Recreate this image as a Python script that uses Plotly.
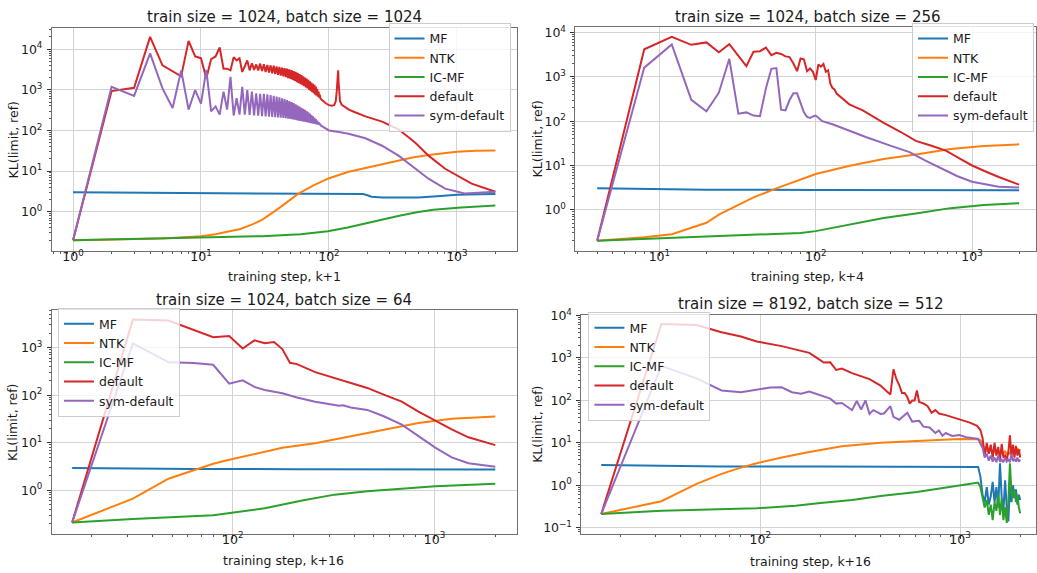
import plotly.graph_objects as go

W, H = 1037, 573

NAMES = ["MF", "NTK", "IC-MF", "default", "sym-default"]
COLORS = ["#1f77b4", "#ff7f0e", "#2ca02c", "#d62728", "#9467bd"]

TICK_VALS = [0.1, 1, 10, 100, 1000, 10000]
TICK_TEXT = ["10<sup>\u22121</sup>", "10<sup>0</sup>", "10<sup>1</sup>",
             "10<sup>2</sup>", "10<sup>3</sup>", "10<sup>4</sup>"]

# ---------------- train size = 1024, batch size = 1024 (x = k+1) ----------------
p1_mf_x = [1, 3, 10, 30, 100, 185, 200, 215, 260, 400, 500, 700, 1000, 1500, 2000]
p1_mf_y = [3.0, 2.92, 2.85, 2.8, 2.75, 2.72, 2.55, 2.35, 2.25, 2.22, 2.25, 2.42, 2.6, 2.68, 2.72]

p1_ntk_x = [1, 5, 10, 13, 16, 20, 25, 30, 40, 57, 75, 98, 140, 193, 270, 350, 450, 600, 800, 1000, 1400, 2000]
p1_ntk_y = [0.2, 0.22, 0.25, 0.28, 0.32, 0.37, 0.48, 0.63, 1.18, 2.7, 4.4, 6.5, 9.5, 11.8, 15, 18, 21.5, 25, 28, 30, 31.5, 32]

p1_icmf_x = [1, 10, 30, 60, 98, 140, 200, 280, 362, 500, 655, 1080, 2000]
p1_icmf_y = [0.2, 0.235, 0.25, 0.28, 0.33, 0.41, 0.53, 0.67, 0.81, 0.98, 1.12, 1.27, 1.42]

p1_default_head = [0.2, 930, 1120, 20000, 4000, 2850, 2150, 16000, 6600, 6000,
                   1900, 5700, 6600, 11000, 3300, 3300, 3000, 6300, 5300, 6000,
                   2750, 3800, 5300, 3000, 4500, 3100, 4200, 3000]
p1_default_osc = [4400, 2900, 4250, 2750, 4100, 2650, 4000, 2550, 3900, 2450,
                  3750, 2350, 3650, 2250, 3500, 2150, 3400, 2050, 3300, 1950,
                  3200, 1850, 3050, 1750, 2900, 1650, 2750, 1550, 2600, 1450,
                  2450, 1380, 2300, 1300, 2150, 1230, 2000, 1150, 1880, 1080,
                  1750, 1000, 1620, 940, 1500, 880, 1400, 820, 1320, 760,
                  1200, 720, 1050, 680, 900, 640, 760, 600]
p1_default_tail_x = [88, 90, 95, 100, 105, 110, 113, 115, 117, 118, 119, 120, 122, 126,
                     135, 143, 160, 193, 260, 350, 473, 600, 809, 1000, 1304, 2000]
p1_default_tail_y = [560, 520, 460, 420, 405, 420, 520, 900, 2000, 3000, 1500, 800, 520, 430,
                     370, 325, 280, 222, 165, 107, 50, 24, 11.4, 7.9, 4.9, 3.1]

p1_sym_head = [0.2, 1180, 710, 7900, 1080, 355, 3000, 325, 985, 455,
               3100, 295, 390, 245, 900, 325, 2080, 233, 620, 245,
               1180, 245, 985, 240, 900, 235, 820, 230]
p1_sym_osc = [800, 225, 790, 222, 770, 218, 740, 215, 710, 212,
              680, 209, 650, 206, 620, 203, 590, 199, 560, 195,
              530, 191, 500, 187, 470, 183, 440, 179, 410, 175,
              385, 171, 360, 167, 340, 164, 320, 161, 300, 158,
              280, 155, 260, 152, 240, 150, 222, 147, 205, 145,
              190, 142, 175, 140, 160, 137, 148, 134]
p1_sym_tail_x = [88, 92, 96, 100, 120, 142, 193, 260, 350, 473, 600, 809, 1150, 2000]
p1_sym_tail_y = [128, 118, 108, 100, 92, 83, 64, 42, 24, 11.4, 6.5, 3.7, 2.8, 3.1]

p1_steps = list(range(1, 87))

# ---------------- train size = 1024, batch size = 256 (x = k+4) ----------------
p2_mf_x = [4, 8, 20, 100, 500, 2000]
p2_mf_y = [3.05, 2.95, 2.85, 2.8, 2.77, 2.75]

p2_ntk_x = [4, 8, 12, 16, 20, 24, 28, 40, 56, 76, 100, 168, 272, 448, 728, 1188, 2000]
p2_ntk_y = [0.2, 0.24, 0.28, 0.39, 0.51, 0.78, 1.02, 1.9, 3.05, 4.6, 6.4, 10, 14, 18, 23.5, 27.7, 30]

p2_icmf_x = [4, 40, 80, 100, 168, 272, 448, 728, 1188, 2000]
p2_icmf_y = [0.2, 0.27, 0.30, 0.33, 0.46, 0.65, 0.84, 1.09, 1.29, 1.41]

p2_default_x = [4, 8, 12, 16, 20, 24, 28, 32, 36, 40, 44, 48, 52, 56, 60, 64, 68, 72, 76, 80,
                84, 88, 92, 96, 100, 104, 108, 112, 116, 120, 124, 128, 132, 136, 150, 164,
                200, 267, 350, 437, 550, 680, 830, 1000, 1200, 1480, 2000]
p2_default_y = [0.2, 4200, 8000, 5300, 6000, 3600, 5500, 3000, 1740, 3700, 3800, 4600, 3100, 3500,
                3300, 2900, 2800, 2000, 1350, 2600, 2500, 1350, 1550, 1300, 850, 1900, 1700, 1950,
                1300, 1400, 700, 560, 520, 420, 320, 240, 175, 95, 57, 36, 28, 21.6, 14.5, 10,
                7.5, 5.5, 3.7]

p2_sym_x = [4, 8, 12, 16, 20, 24, 28, 32, 36, 40, 44, 48, 52, 56, 60, 64, 68, 72, 76, 80,
            84, 88, 92, 96, 100, 104, 110, 128, 160, 209, 300, 398, 500, 648, 800, 1000, 1480, 2000]
p2_sym_y = [0.2, 1620, 5400, 303, 167, 440, 2560, 148, 158, 134, 130, 550, 1520, 1580, 182, 175,
            300, 425, 425, 260, 158, 125, 118, 128, 134, 120, 100, 85, 62, 44, 28, 20, 13, 8.4,
            5.8, 4.3, 3.3, 3.2]

# ---------------- train size = 1024, batch size = 64 (x = k+16) ----------------
p3_mf_x = [16, 32, 64, 200, 2000]
p3_mf_y = [2.95, 2.85, 2.8, 2.78, 2.72]

p3_ntk_x = [16, 32, 48, 64, 80, 96, 128, 176, 256, 384, 560, 832, 1216, 2000]
p3_ntk_y = [0.21, 0.67, 1.75, 2.68, 3.6, 4.4, 5.8, 7.8, 9.8, 13.8, 19, 26, 32, 35.5]

p3_icmf_x = [16, 32, 80, 96, 144, 224, 320, 464, 688, 1008, 2000]
p3_icmf_y = [0.21, 0.25, 0.30, 0.33, 0.42, 0.62, 0.81, 0.95, 1.08, 1.21, 1.37]

p3_default_x = [16, 32, 48, 64, 80, 96, 112, 128, 144, 160, 176, 192, 208, 256, 320, 384,
                464, 560, 688, 832, 1008, 1216, 1472, 2000]
p3_default_y = [0.21, 3880, 3700, 2400, 1660, 1750, 960, 1420, 1230, 1310, 930, 480, 450, 305,
                230, 182, 142, 103, 73, 45, 29, 19, 13, 8.9]

p3_sym_x = [16, 32, 48, 64, 80, 96, 112, 128, 144, 160, 176, 208, 256, 320, 336, 352, 384,
            464, 560, 688, 832, 1008, 1216, 1472, 2000]
p3_sym_y = [0.21, 1230, 490, 475, 435, 175, 205, 149, 128, 118, 110, 89, 73, 62, 60, 61, 55,
            49, 36, 24, 13.8, 7.9, 4.9, 3.7, 3.14]

# ---------------- train size = 8192, batch size = 512 (x = k+16) ----------------
p4_tail_x = [1232, 1264, 1296, 1328, 1360, 1392, 1424, 1456, 1488, 1520, 1552, 1584, 1616,
             1648, 1680, 1712, 1744, 1776, 1808, 1840, 1872, 1904, 1936, 1968, 2000]

p4_mf_x = [16, 32, 64, 200, 1000, 1216]
p4_mf_y = [3.0, 2.85, 2.78, 2.75, 2.72, 2.7]
p4_mf_tail = [2.7, 1.6, 0.6, 0.4, 0.9, 0.35, 0.55, 1.2, 0.4, 0.9, 0.3, 3.3, 0.5,
              0.25, 1.3, 0.3, 0.14, 0.9, 0.4, 1.0, 0.5, 0.8, 0.35, 0.6, 0.45]

p4_ntk_x = [16, 32, 48, 64, 80, 96, 128, 176, 256, 400, 608, 992, 1216]
p4_ntk_y = [0.21, 0.42, 1.08, 1.85, 2.6, 3.3, 4.5, 6.1, 8.3, 10, 11, 12.3, 12.2]
p4_ntk_tail = [12, 11.5, 9, 7, 6.5, 6, 7, 5.5, 6.5, 5.5, 6.2, 5.3, 6,
               5.5, 6.5, 5.2, 6, 5.5, 6.5, 5.5, 7, 6, 7.5, 6, 7]

p4_icmf_x = [16, 32, 96, 150, 200, 288, 400, 608, 1216]
p4_icmf_y = [0.21, 0.25, 0.285, 0.33, 0.38, 0.45, 0.56, 0.69, 1.15]
p4_icmf_tail = [1.15, 0.9, 0.5, 0.3, 0.45, 0.2, 0.35, 0.15, 0.4, 0.25, 0.6, 0.2, 0.5,
                0.15, 0.3, 0.13, 0.4, 3.3, 0.7, 0.5, 0.8, 0.4, 0.6, 0.3, 0.22]

p4_default_x = [16, 32, 48, 64, 80, 96, 128, 176, 192, 208, 224, 240, 256, 288, 352, 400, 432,
                448, 464, 480, 496, 512, 528, 544, 560, 576, 592, 608, 624, 656, 688, 720, 752,
                784, 848, 928, 1024, 1120, 1216]
p4_default_y = [0.21, 6300, 6000, 4040, 3200, 2450, 1900, 1320, 1000, 780, 790, 520, 560, 440,
                318, 224, 160, 138, 540, 320, 230, 150, 150, 120, 84, 100, 100, 171, 92, 85, 73,
                51, 59, 49, 45, 40, 35, 30, 25]
p4_default_tail = [23, 20, 13, 5, 10, 5.5, 9, 4.5, 10, 5, 8, 4, 9.5,
                   4.5, 5, 4, 6, 15, 5, 9, 4.5, 8.5, 5, 7, 4.5]

p4_sym_x = [16, 32, 48, 64, 80, 96, 112, 128, 144, 160, 176, 224, 240, 256, 288, 304, 320, 336,
            352, 368, 400, 416, 448, 464, 496, 544, 576, 624, 656, 704, 752, 784, 816, 848, 912,
            992, 1072, 1216]
p4_sym_y = [0.21, 650, 330, 171, 156, 180, 200, 204, 156, 143, 162, 110, 84, 87, 59, 97, 61,
            100, 48, 59, 48, 49, 73, 41, 35, 51, 31.6, 33, 24, 23, 17, 19.5, 14.7, 17, 14.5,
            15.2, 13.6, 12.4]
p4_sym_tail = [12.4, 9.5, 7.6, 4.5, 5.5, 3.8, 5, 3.6, 4.5, 3.5, 5, 3.6, 4,
               3.5, 4.5, 3.6, 4, 3.5, 5.5, 3.7, 4.2, 3.6, 4.5, 3.6, 4]


def fx(p):
    return p / W


def fy(p):
    return 1 - p / H


panels = [
    dict(
        title="train size = 1024, batch size = 1024",
        xlabel="training step, k+1",
        series=[(p1_mf_x, p1_mf_y), (p1_ntk_x, p1_ntk_y), (p1_icmf_x, p1_icmf_y),
                (p1_steps + p1_default_tail_x, p1_default_head + p1_default_osc + p1_default_tail_y),
                (p1_steps + p1_sym_tail_x, p1_sym_head + p1_sym_osc + p1_sym_tail_y)],
        box=(52, 517, 20, 247), xr=(-0.165, 3.466), yr=(-0.969, 4.528),
        leg=dict(x=fx(511), y=fy(15), xanchor="right", yanchor="top"),
        tpos=(284.5, 9.5), xlpos=(284.5, 273), ylpos=(13, 133.5),
    ),
    dict(
        title="train size = 1024, batch size = 256",
        xlabel="training step, k+4",
        series=[(p2_mf_x, p2_mf_y), (p2_ntk_x, p2_ntk_y), (p2_icmf_x, p2_icmf_y),
                (p2_default_x, p2_default_y), (p2_sym_x, p2_sym_y)],
        box=(576, 1037, 19, 247), xr=(0.463, 3.409), yr=(-0.933, 4.133),
        leg=dict(x=fx(1035), y=fy(15), xanchor="right", yanchor="top"),
        tpos=(808.5, 9.5), xlpos=(808, 273), ylpos=(538, 133),
    ),
    dict(
        title="train size = 1024, batch size = 64",
        xlabel="training step, k+16",
        series=[(p3_mf_x, p3_mf_y), (p3_ntk_x, p3_ntk_y), (p3_icmf_x, p3_icmf_y),
                (p3_default_x, p3_default_y), (p3_sym_x, p3_sym_y)],
        box=(52, 517, 307, 534), xr=(1.104, 3.406), yr=(-0.911, 3.787),
        leg=dict(x=fx(58), y=fy(305), xanchor="left", yanchor="top"),
        tpos=(284.5, 297), xlpos=(284, 561.5), ylpos=(13, 420.5),
    ),
    dict(
        title="train size = 8192, batch size = 512",
        xlabel="training step, k+16",
        series=[(p4_mf_x + p4_tail_x, p4_mf_y + p4_mf_tail),
                (p4_ntk_x + p4_tail_x, p4_ntk_y + p4_ntk_tail),
                (p4_icmf_x + p4_tail_x, p4_icmf_y + p4_icmf_tail),
                (p4_default_x + p4_tail_x, p4_default_y + p4_default_tail),
                (p4_sym_x + p4_tail_x, p4_sym_y + p4_sym_tail)],
        box=(582, 1037, 312, 534), xr=(1.105, 3.38), yr=(-1.14, 4.01),
        leg=dict(x=fx(589), y=fy(309), xanchor="left", yanchor="top"),
        tpos=(811.5, 301), xlpos=(811, 562), ylpos=(538, 423),
    ),
]

FONT = "DejaVu Sans"
TEXT = "#1a1a1a"
SMALL = 12.5
MINOR_VALS = [m * 10.0 ** e for e in range(-2, 5) for m in range(2, 10)]

fig = go.Figure()
layout = dict(
    width=W, height=H, margin=dict(l=0, r=0, t=0, b=0),
    paper_bgcolor="white", plot_bgcolor="white",
    font=dict(family=FONT, color=TEXT, size=SMALL),
    showlegend=True, annotations=[],
)


def axis(domain, rng, anchor, standoff):
    return dict(
        type="log", domain=domain, range=list(rng), anchor=anchor,
        tickmode="array", tickvals=TICK_VALS, ticktext=TICK_TEXT,
        ticks="outside", ticklen=4, tickwidth=1, tickcolor="#333333",
        ticklabelstandoff=standoff,
        showgrid=True, gridcolor="#d3d3d3", gridwidth=1,
        showline=True, linecolor="#707070", linewidth=1, mirror=True,
        zeroline=False, tickfont=dict(family=FONT, size=SMALL, color=TEXT),
        minor=dict(tickmode="array", tickvals=MINOR_VALS, ticks="outside",
                   ticklen=2, tickwidth=1, tickcolor="#555555", showgrid=False),
    )


for i, p in enumerate(panels):
    n = "" if i == 0 else str(i + 1)
    xa, ya = "x" + n, "y" + n
    lg = "legend" + n
    x0, x1, y0, y1 = p["box"]
    layout["xaxis" + n] = axis([fx(x0), min(fx(x1), 1.0)], p["xr"], ya, -10)
    layout["yaxis" + n] = axis([fy(y1), fy(y0)], p["yr"], xa, 2)
    layout[lg] = dict(
        bgcolor="rgba(255,255,255,0.8)", bordercolor="#cccccc", borderwidth=1,
        font=dict(family=FONT, size=SMALL, color=TEXT), tracegroupgap=0,
        itemwidth=30, **p["leg"],
    )
    for (xs, ys), name, color in zip(p["series"], NAMES, COLORS):
        fig.add_trace(go.Scatter(
            x=xs, y=ys, mode="lines", name=name,
            line=dict(color=color, width=2),
            xaxis=xa, yaxis=ya, legend=lg,
        ))
    tx, ty = p["tpos"]
    layout["annotations"].append(dict(
        text=p["title"], x=fx(tx), y=fy(ty), xref="paper", yref="paper",
        xanchor="center", yanchor="middle", showarrow=False,
        font=dict(family=FONT, size=15, color=TEXT)))
    lx, ly = p["xlpos"]
    layout["annotations"].append(dict(
        text=p["xlabel"], x=fx(lx), y=fy(ly), xref="paper", yref="paper",
        xanchor="center", yanchor="middle", showarrow=False,
        font=dict(family=FONT, size=SMALL, color=TEXT)))
    vx, vy = p["ylpos"]
    layout["annotations"].append(dict(
        text="KL(limit, ref)", x=fx(vx), y=fy(vy), xref="paper", yref="paper",
        xanchor="center", yanchor="middle", showarrow=False, textangle=-90,
        font=dict(family=FONT, size=SMALL, color=TEXT)))

fig.update_layout(**layout)
fig.write_html("out.html")
